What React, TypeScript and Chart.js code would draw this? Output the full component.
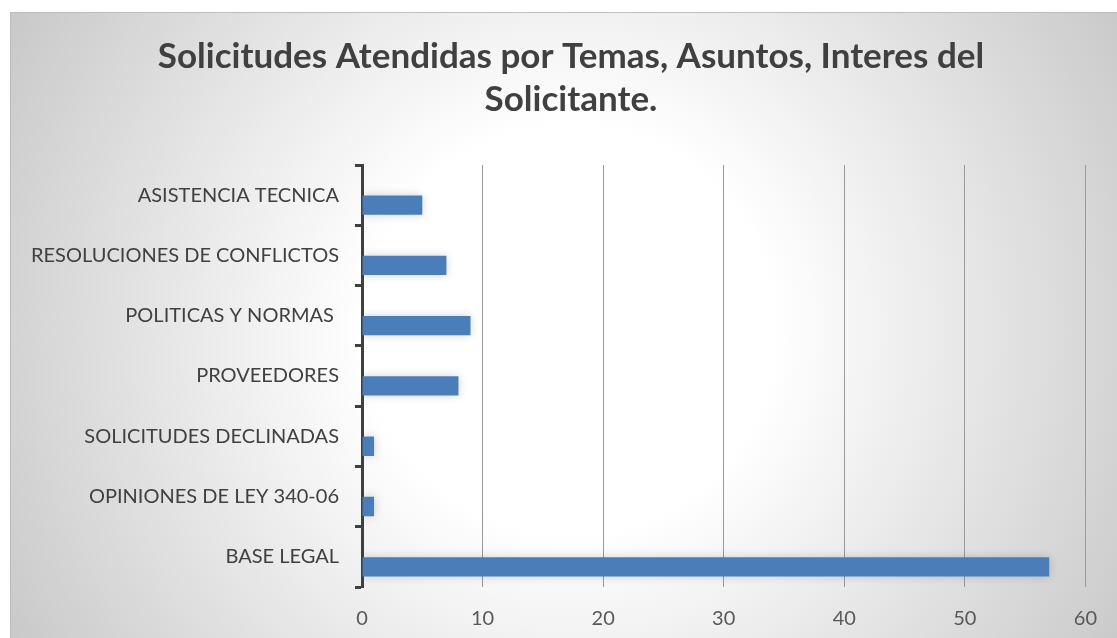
import React, { useEffect, useRef } from 'react';
import { Chart, registerables } from 'chart.js';

Chart.register(...registerables);

const titleLines = ['Solicitudes Atendidas por Temas, Asuntos, Interes del', 'Solicitante.'];
const categories = [
  'ASISTENCIA TECNICA',
  'RESOLUCIONES DE CONFLICTOS',
  'POLITICAS Y NORMAS ',
  'PROVEEDORES',
  'SOLICITUDES DECLINADAS',
  'OPINIONES DE LEY 340-06',
  'BASE LEGAL',
];
// second (empty) series slot, as in the original spreadsheet chart
const emptySeries = [null, null, null, null, null, null, null];
const values = [5, 7, 9, 8, 1, 1, 57];
const xMin = 0;
const xMax = 60;
const xStep = 10;

const FONT = 'Lato, "Open Sans", sans-serif';

const backgroundPlugin = {
  id: 'bgPlugin',
  beforeDraw(chart: any) {
    const { ctx, width, height } = chart;
    ctx.save();
    ctx.fillStyle = '#ffffff';
    ctx.fillRect(0, 0, width, height);
    const x0 = 10;
    const y0 = 12;
    const cx = 570;
    const cy = 330;
    const g = ctx.createRadialGradient(cx, cy, 0, cx, cy, 680);
    g.addColorStop(0, '#ffffff');
    g.addColorStop(0.3, '#ffffff');
    g.addColorStop(1, '#c4c4c4');
    ctx.fillStyle = g;
    ctx.fillRect(x0, y0, width - x0, height - y0);
    ctx.strokeStyle = '#bdbdbd';
    ctx.lineWidth = 1;
    ctx.beginPath();
    ctx.moveTo(x0 + 0.5, height);
    ctx.lineTo(x0 + 0.5, y0 + 0.5);
    ctx.lineTo(width, y0 + 0.5);
    ctx.stroke();

    // title
    ctx.fillStyle = '#404040';
    ctx.font = `bold 35px ${FONT}`;
    ctx.textAlign = 'center';
    ctx.textBaseline = 'middle';
    titleLines.forEach((line, i) => {
      ctx.fillText(line, 571, 57 + i * 43);
    });
    ctx.restore();
  },
  beforeDatasetsDraw(chart: any) {
    const ctx = chart.ctx;
    ctx.save();
    ctx.shadowColor = 'rgba(0,0,0,0.18)';
    ctx.shadowBlur = 10;
  },
  afterDatasetsDraw(chart: any) {
    chart.ctx.restore();
  },
};

export default function App() {
  const ref = useRef<HTMLCanvasElement | null>(null);
  useEffect(() => {
    document.body.style.margin = '0';
    const canvas = ref.current;
    if (!canvas) return;
    const chart = new Chart(canvas, {
      type: 'bar',
      data: {
        labels: categories,
        datasets: [
          {
            data: emptySeries,
            backgroundColor: '#c0504d',
            borderWidth: 0,
            categoryPercentage: 0.66,
            barPercentage: 0.97,
          },
          {
            data: values,
            backgroundColor: '#4a7ebb',
            borderWidth: 0,
            categoryPercentage: 0.66,
            barPercentage: 0.97,
          },
        ],
      },
      options: {
        indexAxis: 'y',
        animation: false,
        responsive: false,
        devicePixelRatio: 1,
        layout: { padding: { left: 0, right: 27, top: 165, bottom: 0 } },
        plugins: {
          legend: { display: false },
          tooltip: { enabled: false },
          title: { display: false },
        },
        scales: {
          x: {
            min: xMin,
            max: xMax,
            ticks: {
              stepSize: xStep,
              color: '#595959',
              font: { family: FONT, size: 20 },
              padding: 20,
            },
            grid: {
              color: '#9a9a9a',
              lineWidth: 1,
              drawTicks: false,
            },
            border: { display: false },
            afterFit(s: any) {
              s.height = 51;
            },
          },
          y: {
            ticks: {
              color: '#404040',
              font: { family: FONT, size: 20 },
              padding: 16,
            },
            grid: {
              drawOnChartArea: false,
              drawTicks: true,
              tickLength: 7,
              tickColor: '#404040',
              tickWidth: 3,
              offset: true,
            },
            border: { display: true, color: '#404040', width: 3 },
            afterFit(s: any) {
              s.width = 362;
            },
          },
        },
      },
      plugins: [backgroundPlugin],
    } as any);
    return () => chart.destroy();
  }, []);
  return (
    <div style={{ position: 'fixed', left: 0, top: 0, width: 1117, height: 638 }}>
      <canvas ref={ref} width={1117} height={638} style={{ display: 'block' }} />
    </div>
  );
}
